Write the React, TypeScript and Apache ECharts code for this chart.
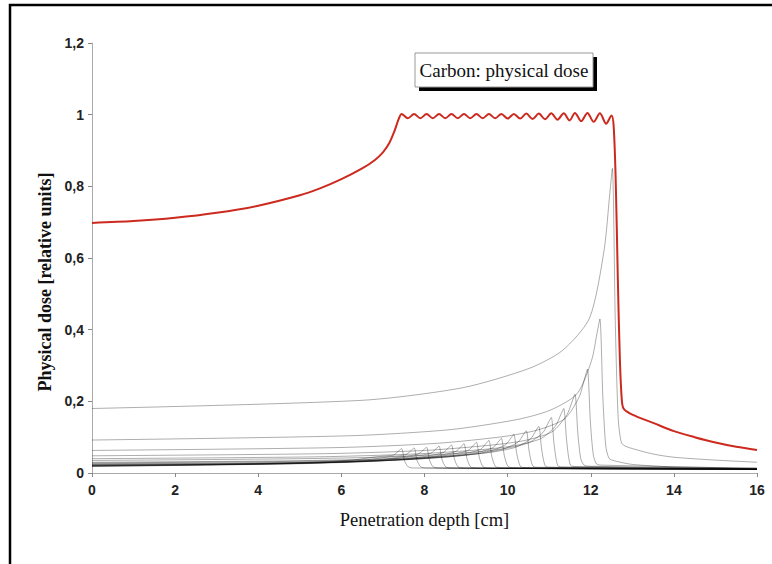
import React, { useEffect, useRef } from "react";
import * as echarts from "echarts";

// Tick labels
const xTicks = [0, 2, 4, 6, 8, 10, 12, 14, 16];
const yTicks = ["0", "0,2", "0,4", "0,6", "0,8", "1", "1,2"];

// Spread-out Bragg peak (physical dose), [depth cm, dose]
const sobp: number[][] = [
  [0, 0.698], [1, 0.703], [2, 0.712], [3, 0.726], [4, 0.746], [5, 0.775], [5.5, 0.795],
  [6, 0.82], [6.5, 0.85], [6.8, 0.873], [7.0, 0.895], [7.15, 0.92], [7.28, 0.955],
  [7.38, 0.988], [7.45, 1.002],
  [7.6, 0.99], [7.75, 1.002], [7.9, 0.99], [8.05, 1.002], [8.2, 0.99], [8.35, 1.002],
  [8.5, 0.99], [8.65, 1.002], [8.8, 0.99], [8.95, 1.002], [9.1, 0.99], [9.25, 1.002],
  [9.4, 0.99], [9.55, 1.002], [9.7, 0.99], [9.85, 1.002], [10.0, 0.989], [10.15, 1.002],
  [10.3, 0.989], [10.45, 1.003], [10.6, 0.988], [10.75, 1.003], [10.9, 0.987],
  [11.05, 1.004], [11.2, 0.986], [11.35, 1.004], [11.49, 0.984], [11.62, 1.005],
  [11.77, 0.982], [11.92, 1.005], [12.07, 0.98], [12.22, 1.004], [12.37, 0.975],
  [12.5, 0.998], [12.55, 0.97], [12.6, 0.82], [12.65, 0.55], [12.7, 0.32], [12.75, 0.2],
  [12.8, 0.178], [13, 0.163], [13.5, 0.14], [14, 0.117], [14.5, 0.1], [15, 0.085],
  [15.5, 0.073], [16, 0.064],
];

// Individual Bragg peaks, [depth cm, dose]
const peak745 = [[0, .019], [1.45, .021], [3.85, .025], [5.45, .031], [6.25, .036], [6.9, .046], [7.25, .05], [7.39, .063], [7.45, .068], [7.52, .034], [7.61, .017], [7.75, .014], [16, .01]];
const peak775 = [[0, .019], [1.75, .021], [4.15, .025], [5.75, .031], [6.55, .036], [7.2, .046], [7.55, .051], [7.69, .064], [7.75, .07], [7.82, .035], [7.91, .017], [8.05, .014], [16, .01]];
const peak805 = [[0, .019], [2.05, .021], [4.45, .025], [6.05, .031], [6.85, .036], [7.5, .046], [7.85, .053], [7.99, .066], [8.05, .072], [8.12, .036], [8.21, .017], [8.35, .014], [16, .01]];
const peak835 = [[0, .02], [2.35, .023], [4.75, .026], [6.35, .032], [7.15, .038], [7.8, .048], [8.15, .055], [8.29, .069], [8.35, .075], [8.42, .038], [8.51, .017], [8.65, .014], [16, .01]];
const peak865 = [[0, .02], [2.65, .023], [5.05, .026], [6.65, .032], [7.45, .038], [8.1, .048], [8.45, .057], [8.59, .072], [8.65, .078], [8.72, .039], [8.81, .017], [8.95, .014], [16, .01]];
const peak895 = [[0, .021], [2.95, .024], [5.35, .028], [6.95, .034], [7.75, .04], [8.4, .05], [8.75, .06], [8.89, .075], [8.95, .082], [9.02, .041], [9.11, .017], [9.25, .014], [16, .01]];
const peak925 = [[0, .022], [3.25, .025], [5.65, .029], [7.25, .036], [8.05, .042], [8.7, .053], [9.05, .063], [9.19, .079], [9.25, .086], [9.32, .043], [9.41, .017], [9.55, .014], [16, .01]];
const peak955 = [[0, .023], [3.55, .026], [5.95, .03], [7.55, .037], [8.35, .044], [9.0, .055], [9.35, .066], [9.49, .084], [9.55, .091], [9.62, .046], [9.71, .018], [9.85, .015], [16, .011]];
const peak985 = [[0, .024], [3.85, .027], [6.25, .032], [7.85, .039], [8.65, .046], [9.3, .058], [9.65, .071], [9.79, .089], [9.85, .097], [9.92, .049], [10.01, .018], [10.15, .015], [16, .011]];
const peak1015 = [[0, .026], [4.15, .029], [6.55, .034], [8.15, .042], [8.95, .049], [9.6, .062], [9.95, .079], [10.09, .099], [10.15, .108], [10.22, .054], [10.31, .018], [10.45, .015], [16, .011]];
const peak1045 = [[0, .028], [4.45, .032], [6.85, .037], [8.45, .045], [9.25, .053], [9.9, .067], [10.25, .086], [10.39, .109], [10.45, .118], [10.52, .059], [10.61, .019], [10.75, .016], [16, .011]];
const peak1075 = [[0, .03], [4.75, .034], [7.15, .04], [8.75, .049], [9.55, .057], [10.2, .072], [10.55, .095], [10.69, .12], [10.75, .13], [10.82, .065], [10.91, .019], [11.05, .016], [16, .011]];
const peak1105 = [[0, .035], [5.05, .04], [7.45, .046], [9.05, .057], [9.85, .067], [10.5, .084], [10.85, .113], [10.99, .143], [11.05, .155], [11.12, .078], [11.21, .02], [11.35, .017], [16, .012]];
const peak1135 = [[0, .04], [5.35, .045], [7.75, .053], [9.35, .065], [10.15, .076], [10.8, .096], [11.15, .131], [11.29, .166], [11.35, .18], [11.42, .09], [11.51, .022], [11.65, .018], [16, .012]];
const peak1162 = [[0, .048], [5.62, .054], [8.02, .063], [9.62, .078], [10.42, .091], [11.07, .115], [11.42, .161], [11.56, .202], [11.62, .22], [11.69, .11], [11.76, .04], [11.84, .022], [11.97, .019], [16, .012]];
const peak1192 = [[0, .063], [5.92, .071], [8.32, .083], [9.92, .102], [10.72, .12], [11.37, .151], [11.72, .212], [11.86, .267], [11.92, .29], [11.99, .145], [12.06, .052], [12.14, .025], [12.27, .022], [16, .013]];
const peak1222 = [[0, .092], [6.22, .104], [8.62, .121], [10.22, .149], [11.02, .175], [11.67, .221], [12.02, .314], [12.16, .396], [12.22, .43], [12.29, .215], [12.36, .077], [12.44, .041], [12.57, .034], [13, .024], [14, .017], [16, .014]];
const peak1252 = [[0, .18], [6.52, .203], [8.92, .238], [10.52, .292], [11.32, .342], [11.97, .432], [12.32, .621], [12.46, .782], [12.52, .85], [12.59, .425], [12.66, .153], [12.74, .084], [12.87, .073], [13.5, .053], [14, .044], [15, .036], [16, .03]];

const braggPeaks = [
  peak745, peak775, peak805, peak835, peak865, peak895, peak925, peak955, peak985,
  peak1015, peak1045, peak1075, peak1105, peak1135, peak1162, peak1192, peak1222, peak1252,
];

const serif = "'Liberation Serif', 'DejaVu Serif', serif";
const sans = "'Liberation Sans', Arial, sans-serif";

export default function App() {
  const ref = useRef<HTMLDivElement>(null);
  useEffect(() => {
    if (!ref.current) return;
    const chart = echarts.init(ref.current, null, { renderer: "svg" });
    const series: any[] = braggPeaks.map((d, i) => ({
      type: "line",
      name: "peak" + i,
      data: d,
      showSymbol: false,
      silent: true,
      smooth: 0.25,
      lineStyle: { color: "#000", opacity: 0.36, width: 0.9 },
      z: 2,
    }));
    series.push({
      type: "line",
      name: "Carbon: physical dose",
      data: sobp,
      showSymbol: false,
      silent: true,
      smooth: 0.3,
      lineStyle: { color: "#cc2a1e", width: 2 },
      z: 5,
    });
    chart.setOption({
      animation: false,
      backgroundColor: "#fff",
      grid: { left: 92, right: 15, top: 43, bottom: 91 },
      xAxis: {
        type: "value",
        min: 0,
        max: 16,
        interval: 2,
        name: "Penetration depth [cm]",
        nameLocation: "middle",
        nameGap: 37,
        nameTextStyle: { fontFamily: serif, fontSize: 18.5, color: "#111" },
        axisLine: { lineStyle: { color: "#aaa", width: 1 } },
        axisTick: { length: 4, lineStyle: { color: "#888" } },
        axisLabel: {
          fontFamily: sans,
          fontSize: 14,
          fontWeight: "bold",
          color: "#222",
          margin: 10,
          formatter: (v: number) => (xTicks.includes(v) ? String(v) : ""),
        },
        splitLine: { show: false },
      },
      yAxis: {
        type: "value",
        min: 0,
        max: 1.2,
        interval: 0.2,
        name: "Physical dose [relative units]",
        nameLocation: "middle",
        nameGap: 30,
        nameTextStyle: {
          fontFamily: serif,
          fontSize: 18,
          fontWeight: "bold",
          color: "#111",
          padding: [0, 48, 0, 0],
        },
        axisLine: { show: true, lineStyle: { color: "#aaa", width: 1 } },
        axisTick: { show: true, length: 4, lineStyle: { color: "#888" } },
        axisLabel: {
          fontFamily: sans,
          fontSize: 14,
          fontWeight: "bold",
          color: "#222",
          margin: 8,
          formatter: (v: number) => yTicks[Math.round(v / 0.2)] ?? "",
        },
        splitLine: { show: false },
      },
      graphic: [
        {
          type: "rect",
          silent: true,
          shape: { x: 10, y: 5, width: 900, height: 700 },
          style: { fill: "none", stroke: "#000", lineWidth: 2.5 },
          z: 100,
        },
        {
          type: "rect",
          silent: true,
          shape: { x: 419, y: 57, width: 178, height: 34 },
          style: { fill: "#000" },
        },
        {
          type: "rect",
          silent: true,
          shape: { x: 415, y: 53, width: 178, height: 34 },
          style: { fill: "#fff", stroke: "#999", lineWidth: 1 },
        },
        {
          type: "text",
          silent: true,
          x: 504,
          y: 70,
          style: {
            text: "Carbon: physical dose",
            fontFamily: serif,
            fontSize: 19,
            fill: "#111",
            align: "center",
            verticalAlign: "middle",
          },
        },
      ],
      series,
    });
    return () => chart.dispose();
  }, []);
  return (
    <div
      ref={ref}
      style={{ position: "fixed", left: 0, top: 0, width: 772, height: 564, background: "#fff" }}
    />
  );
}
